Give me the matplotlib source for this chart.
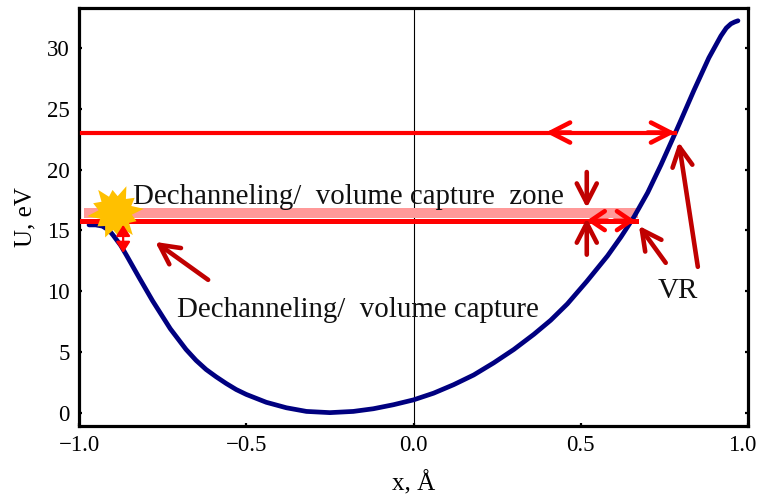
import matplotlib
matplotlib.use("Agg")
import matplotlib.pyplot as plt
from matplotlib.transforms import ScaledTranslation
import numpy as np

plt.rcParams['font.family'] = ['Liberation Serif', 'DejaVu Serif']

# potential curve
x_vals = [-0.97, -0.95, -0.93, -0.91, -0.898, -0.875, -0.856, -0.82, -0.78, -0.727, -0.68, -0.65, -0.62, -0.59, -0.56,
          -0.53, -0.5, -0.44, -0.38, -0.32, -0.25, -0.18, -0.12, -0.06, 0.0, 0.06, 0.12, 0.18, 0.24, 0.3, 0.36, 0.41,
          0.46, 0.518, 0.58, 0.62, 0.659, 0.7, 0.74, 0.784, 0.8, 0.838, 0.883, 0.919, 0.935, 0.949, 0.96, 0.97]
u_vals = [15.45, 15.45, 15.35, 15.0, 14.6, 13.75, 12.85, 11.1, 9.2, 6.9, 5.2, 4.3, 3.55, 2.95, 2.4,
          1.9, 1.5, 0.85, 0.4, 0.1, 0.0, 0.1, 0.32, 0.65, 1.05, 1.6, 2.3, 3.1, 4.1, 5.2, 6.45, 7.6,
          8.95, 10.8, 12.9, 14.45, 16.1, 18.1, 20.4, 23.1, 24.1, 26.5, 29.2, 31.0, 31.65, 32.0, 32.15, 32.25]

x_ticks = [-1.0, -0.5, 0.0, 0.5, 1.0]
x_labels = ["\u22121.0", "\u22120.5", "0.0", "0.5", "1.0"]
y_ticks = [0, 5, 10, 15, 20, 25, 30]

# levels and arrows, data coords
level_top = 23.05
level_zone = 15.8
band_low, band_high = 16.0, 16.85
line_left = -0.99
level_top_end = 0.783
level_zone_end = 0.665
band_end = 0.67
top_heads = [(0.47, 0.395), (0.70, 0.783)]
zone_heads = [(0.58, 0.518), (0.60, 0.662)]
dark_arrows = [((-0.614, 10.93), (-0.772, 14.05)),
               ((0.850, 12.0), (0.793, 22.27)),
               ((0.754, 12.33), (0.674, 15.37)),
               ((0.518, 19.8), (0.518, 16.85)),
               ((0.518, 13.0), (0.518, 16.0))]
small_arrow = ((-0.868, 15.45), (-0.868, 13.15))
star_pos = (-0.892, 16.5)
# outer and inner radius of the burst, going round
star_radii = [1.0, 0.6, 0.85, 0.6, 1.0, 0.58, 0.8, 0.6, 1.0, 0.62, 0.85, 0.6,
              1.0, 0.58, 0.8, 0.6, 0.95, 0.62, 0.85, 0.6, 1.0, 0.6, 0.8, 0.58]

star_angles = np.linspace(0, 2 * np.pi, len(star_radii), endpoint=False) + 0.13
star_verts = np.column_stack([np.cos(star_angles), np.sin(star_angles)]) * np.array(star_radii)[:, None]

fig = plt.figure(figsize=(7.59, 5), dpi=100)
ax = fig.add_axes([79 / 759, 1 - 426 / 500, (748 - 79) / 759, (426 - 8) / 500])

head = "->,head_length=1.4,head_width=0.72"
short_head = "->,head_length=1.0,head_width=0.68"

ax.axvline(0, color='black', lw=0.8, zorder=1)
ax.fill_between([line_left + 0.005, band_end], band_low, band_high, color='#ff9999', lw=0, zorder=2)
ax.plot(x_vals, u_vals, color='#000080', lw=3.4, solid_capstyle='round', zorder=3)
ax.plot([line_left, level_top_end], [level_top, level_top], color='#ff0000', lw=3, zorder=4)
ax.plot([line_left, level_zone_end], [level_zone, level_zone], color='#ff0000', lw=3.6, zorder=4)

for x0, x1 in top_heads:
    ax.annotate("", xy=(x1, level_top), xytext=(x0, level_top),
                arrowprops=dict(arrowstyle=head, color='#ff0000', lw=3.3,
                                shrinkA=0, shrinkB=0), zorder=5)
for x0, x1 in zone_heads:
    ax.annotate("", xy=(x1, level_zone), xytext=(x0, level_zone),
                arrowprops=dict(arrowstyle=short_head, color='#ff0000', lw=3.3,
                                shrinkA=0, shrinkB=0), zorder=5)
for start, end in dark_arrows:
    ax.annotate("", xy=end, xytext=start,
                arrowprops=dict(arrowstyle=head, color='#c00000', lw=3.3,
                                shrinkA=0, shrinkB=0), zorder=6)
ax.scatter([star_pos[0]], [star_pos[1]], marker=star_verts, s=1650, color='#ffc000', lw=0, zorder=7)
ax.annotate("", xy=small_arrow[1], xytext=small_arrow[0],
            arrowprops=dict(arrowstyle="<|-|>,head_length=0.65,head_width=0.42", color='#ff0000',
                            lw=1.6, shrinkA=0, shrinkB=0), zorder=8)

ax.text(-0.84, 17.75, "Dechanneling/  volume capture  zone", fontsize=20.8, color='#111111',
        va='center', ha='left', zorder=8)
ax.text(-0.708, 8.45, "Dechanneling/  volume capture", fontsize=20.8, color='#111111',
        va='center', ha='left', zorder=8)
ax.text(0.731, 10.0, "VR", fontsize=21, color='#111111', va='center', ha='left', zorder=8)

ax.set_xlim(-1.0, 1.0)
ax.set_ylim(-1.1, 33.3)
ax.set_xticks(x_ticks)
ax.set_xticklabels(x_labels)
ax.set_yticks(y_ticks)
ax.tick_params(direction='in', length=2, width=1.6, top=False, right=True, labelsize=16.5, pad=6.5)
for side in ax.spines.values():
    side.set_linewidth(2.3)
ax.set_xlabel("x, \u00c5", fontsize=18, labelpad=11)
ax.set_ylabel("U, eV", fontsize=18, labelpad=8)

# last tick label would run off the right edge
last_label = ax.get_xticklabels()[-1]
last_label.set_transform(last_label.get_transform() + ScaledTranslation(-4 / 72, 0, fig.dpi_scale_trans))

fig.savefig("out.png", dpi=100)
